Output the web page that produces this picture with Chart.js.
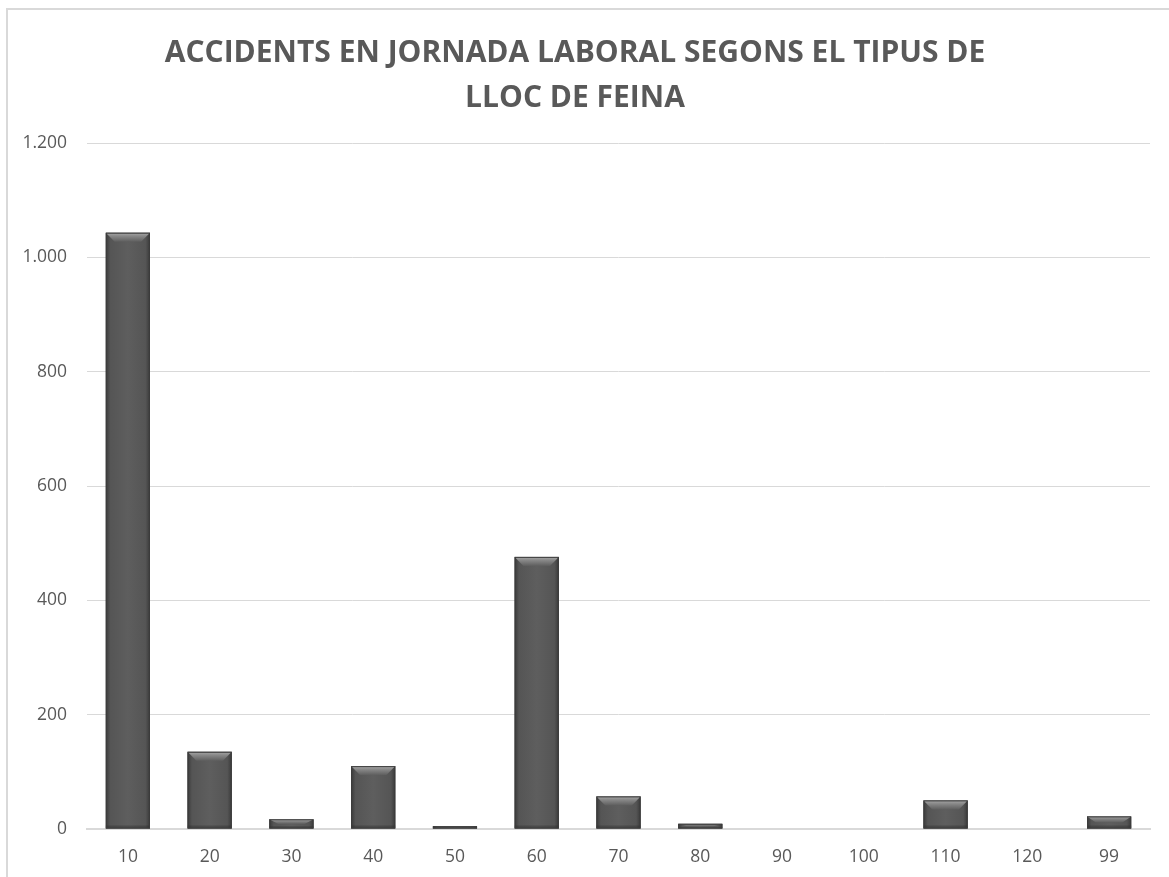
<!DOCTYPE html>
<html>
<head>
<meta charset="utf-8">
<script src="https://cdn.jsdelivr.net/npm/chart.js@4/dist/chart.umd.min.js"></script>
<style>
  html, body { margin: 0; padding: 0; background: #fff; overflow: hidden; }
  #wrap { position: relative; width: 1169px; height: 877px; }
  #frame {
    position: absolute; left: 6px; top: 8px; width: 1300px; height: 1000px;
    border-left: 2px solid #d9d9d9; border-top: 2px solid #d9d9d9;
  }
  canvas { position: absolute; left: 0; top: 0; }
</style>
</head>
<body>
<div id="wrap">
  <div id="frame"></div>
  <canvas id="chart" width="1169" height="877"></canvas>
</div>
<script>
"use strict";

// 職場の種類 (カテゴリ)
const CATEGORIES = ["10", "20", "30", "40", "50", "60", "70", "80", "90", "100", "110", "120", "99"];
const ACCIDENTS = [1043, 135, 17, 110, 5, 476, 57, 9, 1, 0, 50, 0, 22];
const Y_TICKS = [0, 200, 400, 600, 800, 1000, 1200];
const TITLE_LINES = ["ACCIDENTS EN JORNADA LABORAL SEGONS EL TIPUS DE", "LLOC DE FEINA"];

const TEXT_COLOR = "#595959";
const GRID_COLOR = "#d9d9d9";
const FONT = "'Open Sans', 'DejaVu Sans', sans-serif";

function fmtThousands(v) {
  return String(v).replace(/\B(?=(\d{3})+(?!\d))/g, ".");
}

// ベベル風の棒を上書き描画
const bevelBars = {
  id: "bevelBars",
  afterDatasetsDraw(chart) {
    const ctx = chart.ctx;
    chart.getDatasetMeta(0).data.forEach((bar) => {
      const h = bar.base - bar.y;
      if (h < 1) return;
      const left = bar.x - bar.width / 2;
      const right = bar.x + bar.width / 2;
      const top = bar.y;
      const bottom = bar.base;
      const w = right - left;
      const edge = Math.min(4, w / 6);
      const bev = Math.min(9, h / 2);

      ctx.save();
      // 本体: 横方向のグラデーション
      const g = ctx.createLinearGradient(left, 0, right, 0);
      g.addColorStop(0, "#3a3a3a");
      g.addColorStop(0.1, "#555555");
      g.addColorStop(0.5, "#5e5e5e");
      g.addColorStop(0.9, "#555555");
      g.addColorStop(1, "#3a3a3a");
      ctx.fillStyle = g;
      ctx.fillRect(left, top, w, h);

      // 上部の斜面
      const tg = ctx.createLinearGradient(0, top, 0, top + bev);
      tg.addColorStop(0, "#a8a8a8");
      tg.addColorStop(0.35, "#8a8a8a");
      tg.addColorStop(1, "#5e5e5e");
      ctx.fillStyle = tg;
      ctx.beginPath();
      ctx.moveTo(left, top);
      ctx.lineTo(right, top);
      ctx.lineTo(right - edge * 2.2, top + bev);
      ctx.lineTo(left + edge * 2.2, top + bev);
      ctx.closePath();
      ctx.fill();

      // 下端を少し暗く
      ctx.fillStyle = "rgba(40,40,40,0.35)";
      ctx.fillRect(left, bottom - Math.min(3, h / 4), w, Math.min(3, h / 4));

      // 輪郭
      ctx.strokeStyle = "#3c3c3c";
      ctx.lineWidth = 1;
      ctx.strokeRect(left + 0.5, top + 0.5, w - 1, h - 1);
      ctx.restore();
    });
  },
};

new Chart(document.getElementById("chart"), {
  type: "bar",
  data: {
    labels: CATEGORIES,
    datasets: [{
      data: ACCIDENTS,
      backgroundColor: "#585858",
      borderWidth: 0,
      categoryPercentage: 1,
      barPercentage: 0.54,
    }],
  },
  options: {
    responsive: false,
    animation: false,
    devicePixelRatio: 1,
    layout: { padding: { left: 0, right: 19, top: 0, bottom: 0 } },
    plugins: {
      legend: { display: false },
      tooltip: { enabled: false },
      title: {
        display: true,
        text: TITLE_LINES,
        color: TEXT_COLOR,
        font: { family: FONT, size: 30, weight: "bold", lineHeight: 1.5 },
        padding: { top: 31, bottom: 22 },
      },
    },
    scales: {
      x: {
        grid: { display: false, drawTicks: false },
        border: { display: true, color: GRID_COLOR, width: 2 },
        ticks: { color: TEXT_COLOR, font: { family: FONT, size: 17.5 }, padding: 18, maxRotation: 0 },
        afterFit(scale) { scale.height = 48; },
      },
      y: {
        min: 0,
        max: 1200,
        afterBuildTicks(scale) { scale.ticks = Y_TICKS.map((v) => ({ value: v })); },
        grid: { color: GRID_COLOR, drawTicks: false, lineWidth: 1 },
        border: { display: false },
        ticks: {
          color: TEXT_COLOR,
          font: { family: FONT, size: 17.5 },
          padding: 20,
          callback: (v) => fmtThousands(v),
        },
        afterFit(scale) { scale.width = 87; },
      },
    },
  },
  plugins: [bevelBars],
});
</script>
</body>
</html>
